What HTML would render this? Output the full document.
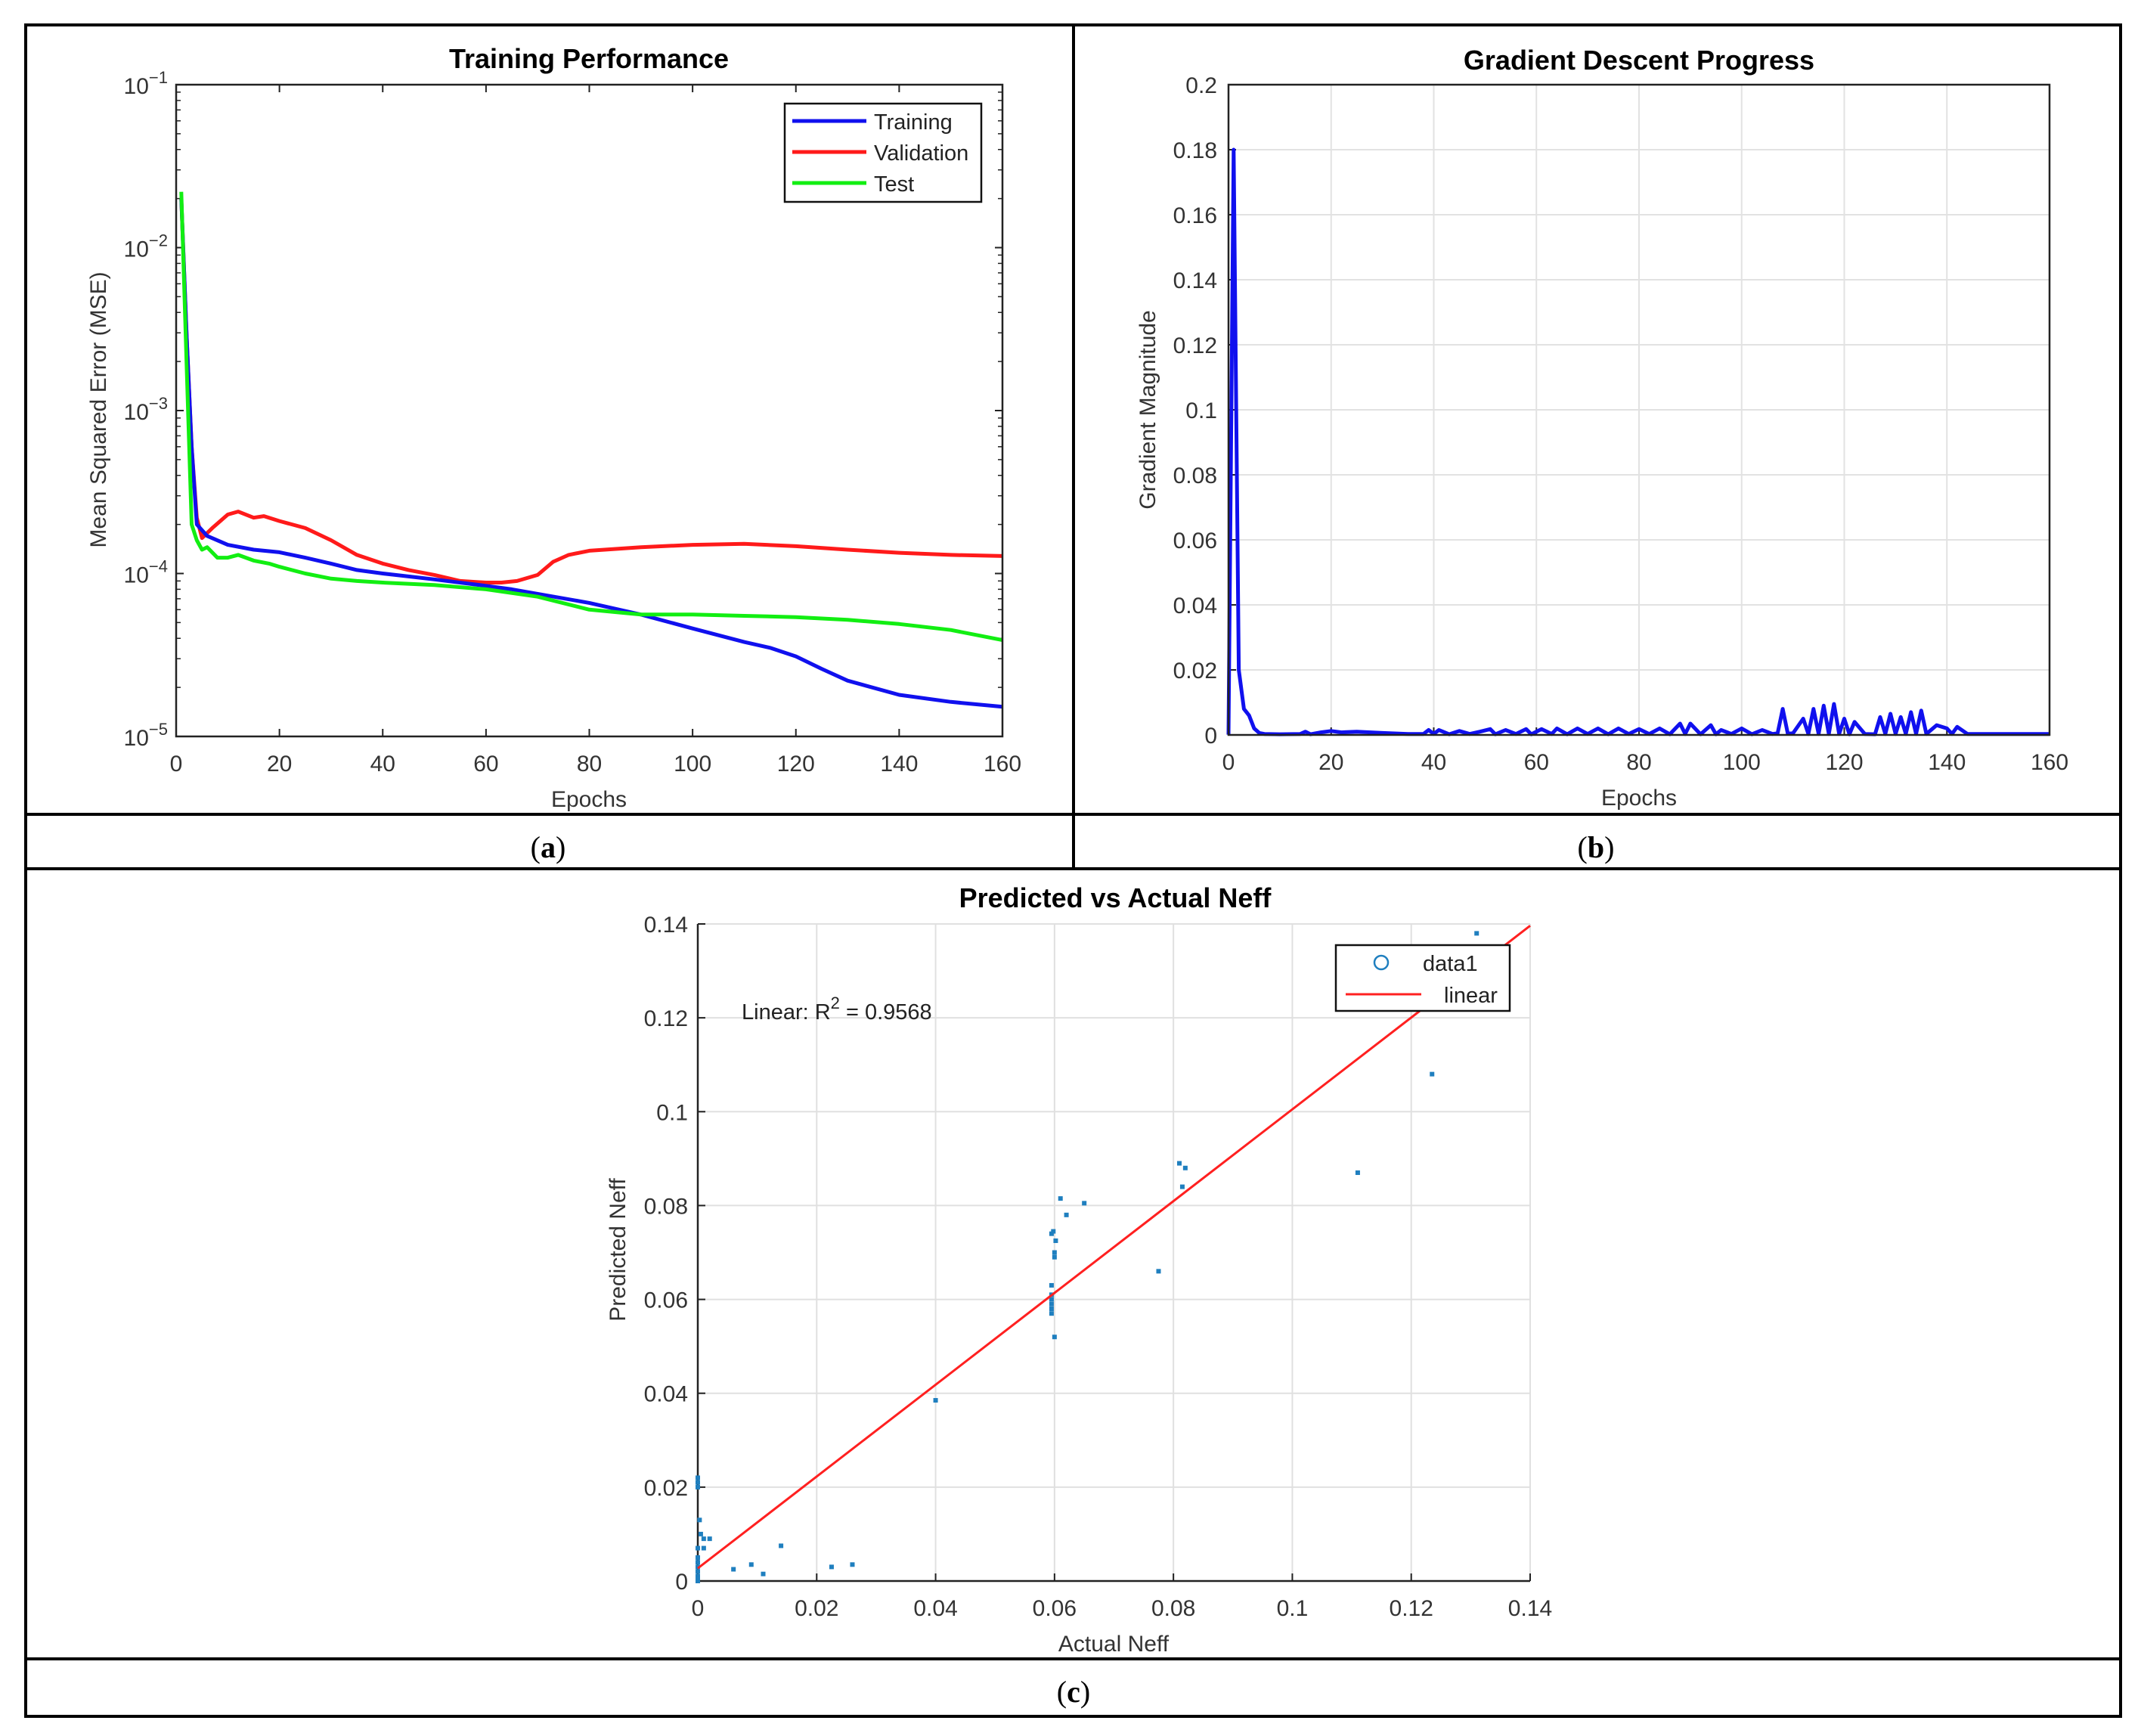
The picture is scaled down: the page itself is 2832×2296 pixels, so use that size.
<!DOCTYPE html>
<html><head><meta charset="utf-8"><style>
html,body{margin:0;padding:0;background:#fff}
svg{display:block}
text{font-family:"Liberation Sans",sans-serif}
.serif{font-family:"Liberation Serif",serif}
</style></head><body>
<svg id="fig" xmlns="http://www.w3.org/2000/svg" width="2832" height="2296" viewBox="0 0 2832 2296">
<g stroke="#000" stroke-width="4" fill="none">
<rect x="34" y="33" width="2771" height="2237"/>
<line x1="1420" y1="33" x2="1420" y2="1149"/>
<line x1="34" y1="1077" x2="2805" y2="1077"/>
<line x1="34" y1="1149" x2="2805" y2="1149"/>
<line x1="34" y1="2194" x2="2805" y2="2194"/>
</g>
<text class="serif" x="725" y="1134" font-size="40" text-anchor="middle">(<tspan font-weight="bold">a</tspan>)</text>
<text class="serif" x="2111" y="1134" font-size="40" text-anchor="middle">(<tspan font-weight="bold">b</tspan>)</text>
<text class="serif" x="1420" y="2251" font-size="40" text-anchor="middle">(<tspan font-weight="bold">c</tspan>)</text>
<g id="ga"></g><g id="gb"></g><g id="gc"></g>
</svg>
<script>
// ---- Panel (a) data ----
const trainEpochs = [1,2,3,4,6,10,15,20,25,30,35,40,50,60,65,70,80,90,100,110,115,120,125,130,140,150,160];
const trainMSE = [0.02,0.003,0.0006,0.0002,0.00017,0.00015,0.00014,0.000135,0.000125,0.000115,0.000105,0.0001,0.000092,0.000084,0.00008,0.000075,0.000066,0.000056,0.000046,0.000038,0.000035,0.000031,0.000026,0.000022,0.000018,0.0000163,0.0000152];
const valEpochs = [1,2,3,4,5,7,10,12,15,17,20,25,30,35,40,45,50,55,60,63,66,70,73,76,80,90,100,110,120,130,140,150,160];
const valMSE = [0.02,0.003,0.0006,0.00022,0.000165,0.00019,0.00023,0.00024,0.00022,0.000225,0.00021,0.00019,0.00016,0.00013,0.000115,0.000105,0.000098,0.00009,0.000088,0.000088,0.00009,0.000098,0.000118,0.00013,0.000138,0.000145,0.00015,0.000152,0.000147,0.00014,0.000134,0.00013,0.000128];
const testEpochs = [1,2,3,4,5,6,8,10,12,15,18,20,25,30,35,40,50,60,70,80,90,100,110,120,130,140,150,160];
const testMSE = [0.022,0.002,0.0002,0.00016,0.00014,0.000145,0.000125,0.000125,0.00013,0.00012,0.000115,0.00011,0.0001,0.000093,0.00009,0.000088,0.000085,0.00008,0.000072,0.00006,0.000056,0.000056,0.000055,0.000054,0.000052,0.000049,0.000045,0.000039];
const aXTicks = [0,20,40,60,80,100,120,140,160];
const aYExp = [-5,-4,-3,-2,-1];
// ---- Panel (b) data ----
const gradEpochs = [0,1,2,3,4,5,6,7,10,14,15,16,18,20,22,25,30,35,38,39,40,41,43,45,47,49,51,52,54,56,58,59,61,63,64,66,68,70,72,74,76,78,80,82,84,86,88,89,90,92,94,95,96,98,100,102,104,106,107,108,109,110,112,113,114,115,116,117,118,119,120,121,122,124,126,127,128,129,130,131,132,133,134,135,136,138,140,141,142,144,150,160];
const gradVal = [0.0001,0.18,0.02,0.008,0.006,0.002,0.0006,0.0003,0.0002,0.0003,0.001,0.0002,0.0008,0.0012,0.0008,0.001,0.0006,0.0003,0.0003,0.0015,0.0003,0.0015,0.0002,0.0012,0.0003,0.001,0.0018,0.0002,0.0015,0.0003,0.0018,0.0002,0.0018,0.0003,0.002,0.0002,0.002,0.0003,0.002,0.0002,0.002,0.0003,0.0018,0.0003,0.002,0.0002,0.0035,0.0003,0.0035,0.0002,0.003,0.0002,0.0015,0.0003,0.002,0.0002,0.0015,0.0003,0.0005,0.008,0.0004,0.0005,0.005,0.0003,0.008,0.0003,0.009,0.0003,0.0095,0.0003,0.005,0.0002,0.004,0.0003,0.0002,0.0055,0.0003,0.0065,0.0003,0.0055,0.0003,0.007,0.0003,0.0075,0.0003,0.003,0.002,0.0003,0.0025,0.0003,0.0003,0.0003];
const bXTicks = [0,20,40,60,80,100,120,140,160];
const bYTicks = [0,0.02,0.04,0.06,0.08,0.1,0.12,0.14,0.16,0.18,0.2];
const bYLabels = ["0","0.02","0.04","0.06","0.08","0.1","0.12","0.14","0.16","0.18","0.2"];
// ---- Panel (c) data ----
const actualNeff = [0,0,0,0.0003,0.0005,0.001,0.002,0,0.001,0,0,0,0,0,0,0,0.006,0.009,0.011,0.014,0.0225,0.026,0.04,0.0595,0.0598,0.0602,0.06,0.06,0.0595,0.0595,0.0595,0.0595,0.0595,0.0595,0.06,0.061,0.062,0.065,0.0775,0.081,0.082,0.0815,0.111,0.1235,0.131];
const predictedNeff = [0.022,0.021,0.02,0.013,0.01,0.009,0.009,0.007,0.007,0.005,0.004,0.003,0.002,0.001,0.0005,0,0.0025,0.0035,0.0015,0.0075,0.003,0.0035,0.0385,0.074,0.0745,0.0725,0.07,0.069,0.063,0.061,0.06,0.059,0.058,0.057,0.052,0.0815,0.078,0.0805,0.066,0.089,0.088,0.084,0.087,0.108,0.138];
const fitSlope = [0.978];
const fitIntercept = [0.0027];
const cTicks = [0,0.02,0.04,0.06,0.08,0.1,0.12,0.14];
const cLabels = ["0","0.02","0.04","0.06","0.08","0.1","0.12","0.14"];

const NS="http://www.w3.org/2000/svg";
function mk(parent,tag,attrs,text){const e=document.createElementNS(NS,tag);for(const k in attrs)e.setAttribute(k,attrs[k]);if(text!==undefined)e.textContent=text;parent.appendChild(e);return e;}

// ===== Panel A =====
const ga=document.getElementById('ga');
const A={x0:233,x1:1326,y0:112,y1:974};
const ax=v=>A.x0+(v/160)*(A.x1-A.x0);
const ay=v=>A.y1-((Math.log10(v)+5)/4)*(A.y1-A.y0);
let t=mk(ga,'text',{x:779,y:90,'font-size':36,'font-weight':'bold','text-anchor':'middle'},'Training Performance');


aXTicks.forEach(v=>{
  mk(ga,'line',{x1:ax(v),x2:ax(v),y1:A.y1,y2:A.y1-10,stroke:'#222','stroke-width':2});
  mk(ga,'line',{x1:ax(v),x2:ax(v),y1:A.y0,y2:A.y0+10,stroke:'#222','stroke-width':2});
  let tx=mk(ga,'text',{x:ax(v),y:1020,'font-size':30,'text-anchor':'middle',fill:'#333'},String(v));
  
  
});
aYExp.forEach(e=>{
  const y=ay(Math.pow(10,e));
  mk(ga,'line',{x1:A.x0,x2:A.x0+10,y1:y,y2:y,stroke:'#222','stroke-width':2});
  mk(ga,'line',{x1:A.x1,x2:A.x1-10,y1:y,y2:y,stroke:'#222','stroke-width':2});
  if(e<-1){for(let m=2;m<10;m++){const ym=ay(m*Math.pow(10,e));
    mk(ga,'line',{x1:A.x0,x2:A.x0+6,y1:ym,y2:ym,stroke:'#222','stroke-width':1.5});
    mk(ga,'line',{x1:A.x1,x2:A.x1-6,y1:ym,y2:ym,stroke:'#222','stroke-width':1.5});}}
  let tx=mk(ga,'text',{x:222,y:y+12,'font-size':30,'text-anchor':'end',fill:'#333'});
  
  
  mk(tx,'tspan',{},'10');
  mk(tx,'tspan',{dy:-14,'font-size':22},'\u2212'+Math.abs(e));
});
t=mk(ga,'text',{x:0,y:0,'font-size':30,'text-anchor':'middle',fill:'#333',transform:'translate(140,542) rotate(-90)'},'Mean Squared Error (MSE)');


t=mk(ga,'text',{x:779,y:1067,'font-size':30,'text-anchor':'middle',fill:'#333'},'Epochs');


function lineA(xs,ys,col,name){const d=xs.map((x,i)=>(i?'L':'M')+ax(x).toFixed(1)+','+ay(ys[i]).toFixed(1)).join('');
  const p=mk(ga,'path',{d:d,stroke:col,'stroke-width':5,fill:'none','stroke-linejoin':'round'});
  
  }
lineA(valEpochs,valMSE,'#ff1a1a','validation-line');
lineA(trainEpochs,trainMSE,'#1010ee','training-line');
lineA(testEpochs,testMSE,'#12ee12','test-line');
let f=mk(ga,'rect',{x:A.x0,y:A.y0,width:A.x1-A.x0,height:A.y1-A.y0,fill:'none',stroke:'#222','stroke-width':2.5});


const leg=mk(ga,'g',{});


mk(leg,'rect',{x:1038,y:137,width:260,height:130,fill:'#fff',stroke:'#111','stroke-width':2.5});
[['Training','#1010ee'],['Validation','#ff1a1a'],['Test','#12ee12']].forEach((r,i)=>{
  const y=160+i*41;
  mk(leg,'line',{x1:1048,x2:1146,y1:y,y2:y,stroke:r[1],'stroke-width':5});
  const lt=mk(leg,'text',{x:1156,y:y+11,'font-size':29,fill:'#222'},r[0]);
  
  
});

// ===== Panel B =====
const gb=document.getElementById('gb');
const B={x0:1625,x1:2711,y0:112,y1:972};
const bx=v=>B.x0+(v/160)*(B.x1-B.x0);
const by=v=>B.y1-(v/0.2)*(B.y1-B.y0);
t=mk(gb,'text',{x:2168,y:92,'font-size':36,'font-weight':'bold','text-anchor':'middle'},'Gradient Descent Progress');


bXTicks.forEach(v=>{
  mk(gb,'line',{x1:bx(v),x2:bx(v),y1:B.y0,y2:B.y1,stroke:'#e2e2e2','stroke-width':2});
  mk(gb,'line',{x1:bx(v),x2:bx(v),y1:B.y1,y2:B.y1-10,stroke:'#222','stroke-width':2});
  const tx=mk(gb,'text',{x:bx(v),y:1018,'font-size':30,'text-anchor':'middle',fill:'#333'},String(v));
  
  
});
bYTicks.forEach((v,i)=>{
  mk(gb,'line',{x1:B.x0,x2:B.x1,y1:by(v),y2:by(v),stroke:'#e2e2e2','stroke-width':2});
  mk(gb,'line',{x1:B.x0,x2:B.x0+10,y1:by(v),y2:by(v),stroke:'#222','stroke-width':2});
  const tx=mk(gb,'text',{x:1610,y:by(v)+11,'font-size':30,'text-anchor':'end',fill:'#333'},bYLabels[i]);
  
  
});
t=mk(gb,'text',{x:0,y:0,'font-size':30,'text-anchor':'middle',fill:'#333',transform:'translate(1528,542) rotate(-90)'},'Gradient Magnitude');


t=mk(gb,'text',{x:2168,y:1065,'font-size':30,'text-anchor':'middle',fill:'#333'},'Epochs');


let gp=mk(gb,'path',{d:gradEpochs.map((x,i)=>(i?'L':'M')+bx(x).toFixed(1)+','+by(gradVal[i]).toFixed(1)).join(''),stroke:'#1010ee','stroke-width':5,fill:'none','stroke-linejoin':'round'});


f=mk(gb,'rect',{x:B.x0,y:B.y0,width:B.x1-B.x0,height:B.y1-B.y0,fill:'none',stroke:'#222','stroke-width':2.5});



// ===== Panel C =====
const gc=document.getElementById('gc');
const C={x0:923,x1:2024,y0:1222,y1:2091};
const cx=v=>C.x0+(v/0.14)*(C.x1-C.x0);
const cy=v=>C.y1-(v/0.14)*(C.y1-C.y0);
t=mk(gc,'text',{x:1475,y:1200,'font-size':36,'font-weight':'bold','text-anchor':'middle'},'Predicted vs Actual Neff');


cTicks.forEach((v,i)=>{
  mk(gc,'line',{x1:cx(v),x2:cx(v),y1:C.y0,y2:C.y1,stroke:'#e0e0e0','stroke-width':2});
  mk(gc,'line',{x1:C.x0,x2:C.x1,y1:cy(v),y2:cy(v),stroke:'#e0e0e0','stroke-width':2});
  mk(gc,'line',{x1:cx(v),x2:cx(v),y1:C.y1,y2:C.y1-10,stroke:'#222','stroke-width':2});
  mk(gc,'line',{x1:C.x0,x2:C.x0+10,y1:cy(v),y2:cy(v),stroke:'#222','stroke-width':2});
  let tx=mk(gc,'text',{x:cx(v),y:2137,'font-size':30,'text-anchor':'middle',fill:'#333'},cLabels[i]);
  
  
  tx=mk(gc,'text',{x:910,y:cy(v)+11,'font-size':30,'text-anchor':'end',fill:'#333'},cLabels[i]);
  
  
});
mk(gc,'line',{x1:C.x0,x2:C.x1,y1:C.y1,y2:C.y1,stroke:'#222','stroke-width':2.5});
mk(gc,'line',{x1:C.x0,x2:C.x0,y1:C.y0,y2:C.y1,stroke:'#222','stroke-width':2.5});
t=mk(gc,'text',{x:0,y:0,'font-size':30,'text-anchor':'middle',fill:'#333',transform:'translate(827,1653) rotate(-90)'},'Predicted Neff');


t=mk(gc,'text',{x:1473,y:2184,'font-size':30,'text-anchor':'middle',fill:'#333'},'Actual Neff');


actualNeff.forEach((a,i)=>{
  const d=mk(gc,'rect',{x:cx(a)-3,y:cy(predictedNeff[i])-3,width:6,height:6,fill:'#1f7fbf'});
  
  
});
const fl=mk(gc,'line',{x1:cx(0),y1:cy(fitIntercept[0]),x2:cx(0.14),y2:cy(fitIntercept[0]+fitSlope[0]*0.14),stroke:'#ff2020','stroke-width':3});


t=mk(gc,'text',{x:981,y:1348,'font-size':29,fill:'#222'});


mk(t,'tspan',{},'Linear: R');
mk(t,'tspan',{dy:-14,'font-size':22},'2');
mk(t,'tspan',{dy:14},' = 0.9568');
const lc=mk(gc,'g',{});


mk(lc,'rect',{x:1767,y:1250,width:230,height:87,fill:'#fff',stroke:'#111','stroke-width':2.5});
mk(lc,'circle',{cx:1827,cy:1273,r:9,fill:'none',stroke:'#1f7fbf','stroke-width':2.5});
let le=mk(lc,'text',{x:1882,y:1284,'font-size':29,fill:'#222'},'data1');


mk(lc,'line',{x1:1780,x2:1880,y1:1315,y2:1315,stroke:'#ff2020','stroke-width':3});
le=mk(lc,'text',{x:1910,y:1326,'font-size':29,fill:'#222'},'linear');


</script>
</body></html>
